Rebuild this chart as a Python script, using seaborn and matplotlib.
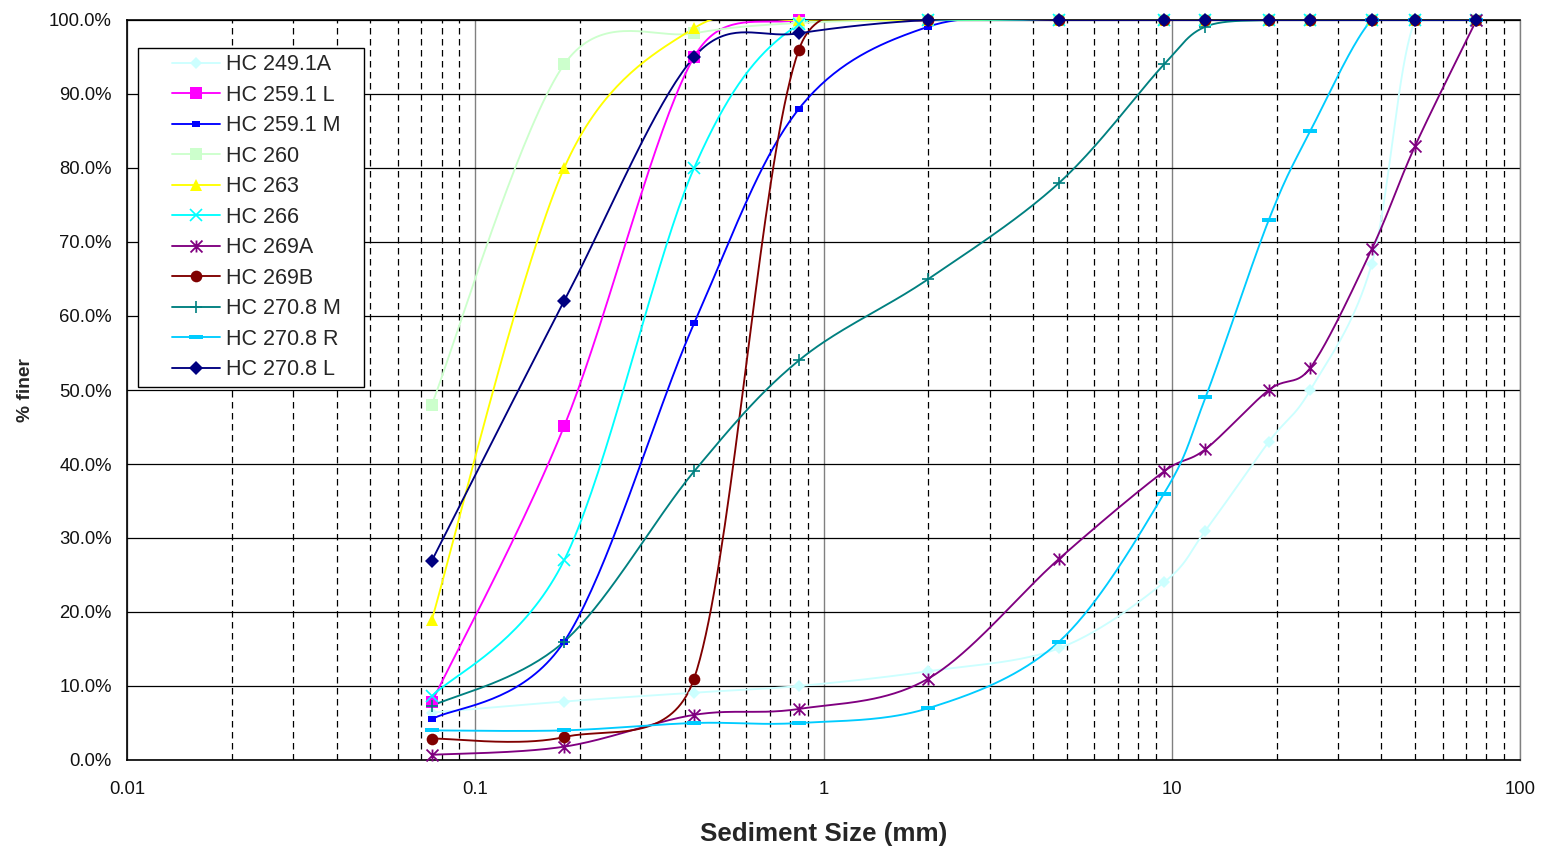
import numpy as np
import pandas as pd
import matplotlib
matplotlib.use("Agg")
import matplotlib.pyplot as plt
from matplotlib.path import Path
from matplotlib.lines import Line2D
from matplotlib.legend_handler import HandlerLine2D
from matplotlib.ticker import FuncFormatter, LogLocator, NullFormatter
import seaborn as sns

# ---------------- data ----------------
sieve_mm = [0.075, 0.18, 0.425, 0.85, 2.0, 4.75, 9.5, 12.5, 19.0, 25.0, 37.5, 50.0, 75.0]

series_names = ["HC 249.1A", "HC 259.1 L", "HC 259.1 M", "HC 260", "HC 263", "HC 266",
                "HC 269A", "HC 269B", "HC 270.8 M", "HC 270.8 R", "HC 270.8 L"]

hc_249_1a = [6.4, 7.9, 9.1, 10.0, 12.0, 15.1, 24.0, 31.0, 43.0, 50.0, 67.0, 100, 100]
hc_259_1l = [7.8, 45.1, 95.0, 100, 100, 100, 100, 100, 100, 100, 100, 100, 100]
hc_259_1m = [5.5, 16.0, 59.0, 88.0, 99.1, 100, 100, 100, 100, 100, 100, 100, 100]
hc_260 = [48.0, 94.0, 98.2, 99.6, 100, 100, 100, 100, 100, 100, 100, 100, 100]
hc_263 = [18.9, 80.0, 98.9, 100, 100, 100, 100, 100, 100, 100, 100, 100, 100]
hc_266 = [8.6, 27.0, 80.0, 99.4, 100, 100, 100, 100, 100, 100, 100, 100, 100]
hc_269a = [0.7, 1.8, 6.1, 6.9, 11.0, 27.2, 39.0, 42.0, 50.0, 53.0, 69.0, 83.0, 100]
hc_269b = [2.9, 3.1, 11.0, 96.0, 100, 100, 100, 100, 100, 100, 100, 100, 100]
hc_270_8m = [7.3, 16.0, 39.0, 54.0, 65.0, 78.0, 94.0, 99.1, 100, 100, 100, 100, 100]
hc_270_8r = [4.0, 4.0, 5.0, 5.0, 7.0, 16.0, 36.0, 49.0, 73.0, 85.0, 100, 100, 100]
hc_270_8l = [26.9, 62.0, 95.0, 98.2, 100, 100, 100, 100, 100, 100, 100, 100, 100]

y_ticks = [0, 10, 20, 30, 40, 50, 60, 70, 80, 90, 100]
x_tick_labels = ["0.01", "0.1", "1", "10", "100"]

all_values = [hc_249_1a, hc_259_1l, hc_259_1m, hc_260, hc_263, hc_266,
              hc_269a, hc_269b, hc_270_8m, hc_270_8r, hc_270_8l]

# ---------------- styles ----------------
rect_small = Path([(-1, -0.65), (1, -0.65), (1, 0.65), (-1, 0.65), (-1, -0.65)],
                  [Path.MOVETO, Path.LINETO, Path.LINETO, Path.LINETO, Path.CLOSEPOLY])
rect_wide = Path([(-1, -0.32), (1, -0.32), (1, 0.32), (-1, 0.32), (-1, -0.32)],
                 [Path.MOVETO, Path.LINETO, Path.LINETO, Path.LINETO, Path.CLOSEPOLY])
excel_star = Path([(-1, -1), (1, 1), (-1, 1), (1, -1), (0, -1), (0, 1)],
                  [Path.MOVETO, Path.LINETO, Path.MOVETO, Path.LINETO, Path.MOVETO, Path.LINETO])

styles = [
    dict(color="#CCFFFF", marker="D", ms=6.3, mew=0, fill=True),
    dict(color="#FF00FF", marker="s", ms=8.4, mew=0, fill=True),
    dict(color="#0000FF", marker=rect_small, ms=6.3, mew=0, fill=True),
    dict(color="#CCFFCC", marker="s", ms=8.6, mew=0, fill=True),
    dict(color="#FFFF00", marker="^", ms=9.0, mew=0, fill=True),
    dict(color="#00FFFF", marker="x", ms=8.0, mew=1.2, fill=True),
    dict(color="#800080", marker=excel_star, ms=8.6, mew=1.3, fill=False),
    dict(color="#800000", marker="o", ms=8.4, mew=0, fill=True),
    dict(color="#008080", marker="+", ms=8.0, mew=1.2, fill=True),
    dict(color="#00CCFF", marker=rect_wide, ms=10.6, mew=0, fill=True),
    dict(color="#000080", marker="D", ms=6.8, mew=0, fill=True),
]

PX_DEC = 348.25
PX_PCT = 7.4


def smooth_curve(xs, ys, n=40):
    """Excel-like smoothed line: cubic Bezier with tangent-based control
    points, limited to half the segment length."""
    X = np.log10(np.asarray(xs, float)) * PX_DEC
    Y = np.asarray(ys, float) * PX_PCT
    P = np.column_stack([X, Y])
    m = len(P)
    out = []
    t = np.linspace(0, 1, n)[:, None]
    for i in range(m - 1):
        p0 = P[i - 1] if i > 0 else P[i]
        p1, p2 = P[i], P[i + 1]
        p3 = P[i + 2] if i + 2 < m else P[i + 1]
        d12 = np.linalg.norm(p2 - p1)
        T1 = p2 - p0
        T2 = p3 - p1
        n1 = np.linalg.norm(T1)
        n2 = np.linalg.norm(T2)
        f1 = min(1 / 6.0, d12 / (2 * n1)) if n1 > 0 else 0
        f2 = min(1 / 6.0, d12 / (2 * n2)) if n2 > 0 else 0
        c1 = p1 + T1 * f1
        c2 = p2 - T2 * f2
        B = ((1 - t) ** 3) * p1 + 3 * ((1 - t) ** 2) * t * c1 + 3 * (1 - t) * t ** 2 * c2 + t ** 3 * p2
        out.append(B if i == m - 2 else B[:-1])
    B = np.vstack(out)
    return 10 ** (B[:, 0] / PX_DEC), B[:, 1] / PX_PCT


# ---------------- figure ----------------
sns.set_style("white")
plt.rcParams["font.family"] = ["Liberation Sans", "DejaVu Sans"]

fig = plt.figure(figsize=(15.43, 8.5), dpi=100)
W, H = 1543, 850
ax = fig.add_axes([127 / W, 1 - 760 / H, 1393 / W, 740 / H])
ax.set_xscale("log")
ax.set_xlim(0.01, 100)
ax.set_ylim(0, 100)

# grid
ax.set_axisbelow(True)
ax.xaxis.set_major_locator(LogLocator(base=10, numticks=10))
ax.xaxis.set_minor_locator(LogLocator(base=10, subs=np.arange(2, 10), numticks=20))
ax.xaxis.set_minor_formatter(NullFormatter())
ax.grid(True, which="major", axis="x", color="#808080", lw=1.0, ls="-")
ax.grid(True, which="minor", axis="x", color="#000000", lw=0.9, ls=(0, (5.2, 3.6)))
ax.grid(True, which="major", axis="y", color="#000000", lw=0.9, ls="-")


def marker_kw(st):
    return dict(marker=st["marker"], ms=st["ms"], mec=st["color"], mew=st["mew"],
                mfc=st["color"] if st["fill"] else "none")


for name, vals, st in zip(series_names, all_values, styles):
    sx, sy = smooth_curve(sieve_mm, vals)
    df = pd.DataFrame({"x": sx, "y": sy})
    sns.lineplot(data=df, x="x", y="y", sort=False, estimator=None, color=st["color"],
                 lw=1.35, ax=ax, legend=False, zorder=3)
    ax.plot(sieve_mm, vals, ls="none", zorder=4, clip_on=False, **marker_kw(st))

ax.set_yticks(y_ticks)
ax.yaxis.set_major_formatter(FuncFormatter(lambda v, p: f"{v:.1f}%"))
ax.set_xticks([0.01, 0.1, 1, 10, 100])
ax.set_xticklabels(x_tick_labels)
ax.tick_params(axis="both", which="major", direction="out", length=4, width=1,
               color="black", labelsize=13.3, labelcolor="#111111")
ax.tick_params(axis="y", pad=7)
ax.tick_params(axis="x", pad=11)
ax.tick_params(axis="both", which="minor", length=0)

for s in ["left", "bottom", "top"]:
    ax.spines[s].set_color("black")
    ax.spines[s].set_linewidth(1.2)
ax.spines["right"].set_color("#808080")
ax.spines["right"].set_linewidth(1.0)

ax.set_xlabel("Sediment Size (mm)", fontsize=18.7, fontweight="bold")
ax.set_ylabel("% finer", fontsize=13.8, fontweight="bold")
ax.xaxis.set_label_coords(0.5, -0.084)
ax.yaxis.set_label_coords(-0.067, 0.5)

# legend
handles = []
for name, st in zip(series_names, styles):
    handles.append(Line2D([0], [0], color=st["color"], lw=1.35, **marker_kw(st)))
fs = 15.5
leg = ax.legend(handles=handles, labels=series_names, loc="upper left",
                bbox_to_anchor=(11 / 1393, 0.2, 226 / 1393, (760 - 48) / 740 - 0.2),
                mode="expand", borderaxespad=0, fontsize=fs, frameon=True,
                fancybox=False, edgecolor="black", framealpha=1, borderpad=0.3,
                labelspacing=0.44, handlelength=3.5, handletextpad=0.3,
                handler_map={Line2D: HandlerLine2D(xpad=1.28, numpoints=1)})
leg.get_frame().set_linewidth(1.0)

fig.savefig("out.png", dpi=100)
